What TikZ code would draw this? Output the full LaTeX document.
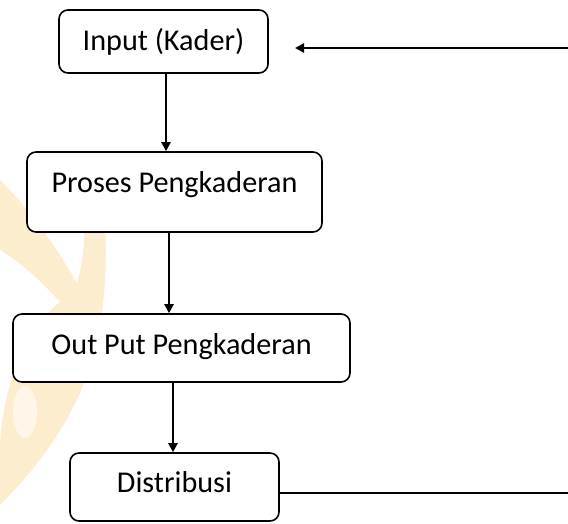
\documentclass[tikz,border=0pt]{standalone}
\usepackage{fontspec}
\setmainfont{Carlito}
\usetikzlibrary{arrows.meta}
\definecolor{wm}{RGB}{253,237,207}
\definecolor{wmlight}{RGB}{254,246,232}
\begin{document}
\begin{tikzpicture}[x=1pt,y=-1pt,
  box/.style={draw=black, line width=1.6pt, rounded corners=9pt, fill=white,
    font=\fontsize{30.2}{35}\selectfont, inner sep=0pt, text height=20pt},
  conn/.style={line width=2.1pt, -{Triangle[length=9pt,width=9pt]}},
  plainline/.style={line width=2.1pt}]
\useasboundingbox (0,0) rectangle (568,524);
% faint watermark on the left
\fill[wm] (0,180) .. controls (30,210) and (55,245) .. (77,283)
  -- (60,302) .. controls (40,280) and (20,262) .. (0,250) -- cycle;
\fill[wm] (84,220) -- (105,218) .. controls (107,265) and (105,295) .. (101,318)
  -- (77,283) .. controls (82,265) and (85,245) .. (84,220) -- cycle;
\fill[wm] (77,283) -- (101,316) .. controls (92,390) and (55,450) .. (0,505)
  -- (0,445) .. controls (4,375) and (30,325) .. (60,302) -- cycle;
\fill[wmlight] (25,412) ellipse (12 and 26);
% boxes
\node[box, minimum width=209pt, minimum height=63pt, text depth=2.3pt] (b1) at (163.5,41.5) {Input (Kader)};
\node[box, minimum width=295pt, minimum height=80pt, text depth=18.7pt] (b2) at (174.5,192) {Proses Pengkaderan};
\node[box, minimum width=337pt, minimum height=68pt, text depth=7.3pt] (b3) at (181.5,348) {Out Put Pengkaderan};
\node[box, minimum width=209pt, minimum height=68pt, text depth=8.7pt] (b4) at (174.5,487) {Distribusi};
% connectors
\draw[conn] ([xshift=2.5pt]b1.south) -- ([xshift=2.5pt]b1.south |- b2.north);
\draw[conn] ([xshift=-5.5pt]b2.south) -- ([xshift=-5.5pt]b2.south |- b3.north);
\draw[conn] ([xshift=-8.5pt]b3.south) -- ([xshift=-8.5pt]b3.south |- b4.north);
\coordinate (fbout) at (568,493);
\coordinate (fbin) at (568,48);
\coordinate (fbtip) at (295,48);
\draw[plainline] ([yshift=-6pt]b4.east) -- (fbout);
\draw[conn] (fbin) -- (fbtip);
\end{tikzpicture}
\end{document}
